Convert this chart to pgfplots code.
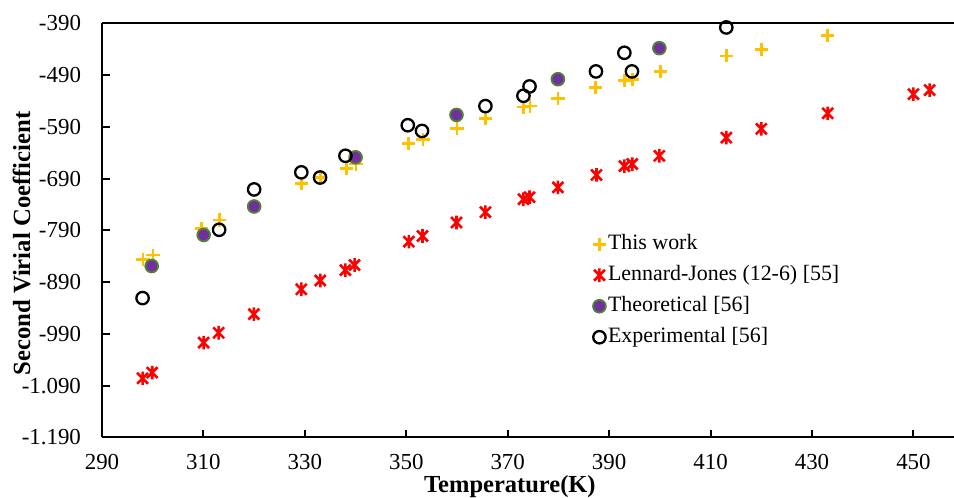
\documentclass[border=0pt]{standalone}
\usepackage{pgfplots}
\pgfplotsset{compat=1.18}
\usepackage{fontspec}
\setmainfont{Liberation Serif}
\definecolor{gold}{RGB}{255,192,0}
\definecolor{ljred}{RGB}{255,0,0}
\definecolor{thpurple}{RGB}{112,48,160}
\definecolor{thgreen}{RGB}{84,130,53}
\pgfdeclareplotmark{xstar}{%
  \pgfpathmoveto{\pgfqpoint{0pt}{\pgfplotmarksize}}%
  \pgfpathlineto{\pgfqpoint{0pt}{-\pgfplotmarksize}}%
  \pgfpathmoveto{\pgfqpoint{-0.8\pgfplotmarksize}{0.8\pgfplotmarksize}}%
  \pgfpathlineto{\pgfqpoint{0.8\pgfplotmarksize}{-0.8\pgfplotmarksize}}%
  \pgfpathmoveto{\pgfqpoint{-0.8\pgfplotmarksize}{-0.8\pgfplotmarksize}}%
  \pgfpathlineto{\pgfqpoint{0.8\pgfplotmarksize}{0.8\pgfplotmarksize}}%
  \pgfusepathqstroke}
\begin{document}
\begin{tikzpicture}
\path[use as bounding box] (-51bp,-30.35bp) rectangle (426bp,218.65bp);
\begin{axis}[
  scale only axis, width=426bp, height=207bp,
  xmin=290, xmax=458, ymin=-1190, ymax=-390,
  axis x line=box, axis y line=left,
  axis line style={-, line width=1bp, black},
  xtick pos=bottom, ytick pos=left,
  tick align=inside,
  major tick length=3.8bp,
  tick style={line width=1bp, black},
  xtick={290,310,...,450},
  ytick={-1190,-1090,-990,-890,-790,-690,-590,-490,-390},
  yticklabels={-1.190,-1.090,-990,-890,-790,-690,-590,-490,-390},
  /pgf/number format/assume math mode=true,
  tick label style={font=\fontsize{11.5}{13}\selectfont},
  yticklabel style={xshift=-7bp},
  xticklabel style={yshift=-5bp},
  xlabel={Temperature(K)},
  ylabel={Second Virial Coefficient},
  xlabel style={font=\fontsize{12.3}{14}\selectfont\bfseries, at={(axis description cs:0.4787,-0.1338)}, anchor=base},
  ylabel style={font=\fontsize{12.4}{14}\selectfont\bfseries, at={(axis description cs:-0.0944,0.468)}, anchor=center},
  legend cell align=left,
  legend style={draw=none, fill=none, font=\fontsize{11}{13}\selectfont,
    at={(axis description cs:0.5686,0.507)}, anchor=north west,
    nodes={inner sep=1pt, text height=8bp, text depth=2.5bp},
    row sep=3bp, column sep=0pt},
  legend image code/.code={\draw[mark repeat=2,mark phase=2,#1] plot coordinates {(0cm,0cm) (0.1cm,0cm) (0.2cm,0cm)};},
]
\addplot[only marks, mark=+, mark size=3.3bp, color=gold, mark options={line width=1.35bp}] coordinates {
(298.1,-847) (300.05,-838) (309.6,-786) (313.2,-770) (329.3,-700) (333.05,-688)
(338.2,-670) (340.1,-662) (350.5,-622) (353.3,-615) (360.0,-593) (365.6,-574)
(373.1,-552) (374.4,-550) (379.9,-535) (387.3,-514) (393.0,-500) (394.55,-498)
(400.1,-483) (413.2,-453) (420,-440) (433.1,-414)
};
\addlegendentry{This work}
\addplot[only marks, mark=xstar, mark size=3.4bp, color=ljred, mark options={line width=1.3bp}] coordinates {
(298.0,-1076) (299.9,-1065) (310.05,-1007) (313.0,-988) (319.96,-952) (329.3,-904)
(333.05,-887) (338.0,-867) (339.8,-857) (350.5,-812) (353.2,-801) (359.9,-775)
(365.6,-755) (373.1,-730) (374.3,-726) (379.9,-707) (387.5,-683) (393.0,-666)
(394.55,-662) (399.9,-646) (413.1,-611) (420,-594) (433.1,-564) (450,-527) (453.2,-519)
};
\addlegendentry{Lennard-Jones (12-6) [55]}
\addplot[only marks, mark=*, mark size=3.2bp, mark options={fill=thpurple, draw=thgreen, line width=0.9bp}] coordinates {
(299.8,-859) (310.05,-799) (320,-744) (340,-649) (359.9,-567) (379.9,-498) (399.9,-438)
};
\addlegendentry{Theoretical [56]}
\addplot[only marks, mark=o, mark size=3.1bp, mark options={draw=black, line width=1.15bp}] coordinates {
(298.0,-921) (313.1,-789) (320,-711) (329.3,-678) (333.0,-688) (338.0,-646)
(350.3,-587) (353.1,-598) (365.6,-550) (373.1,-530) (374.3,-512) (387.4,-483)
(393.0,-447) (394.5,-483) (413.1,-398)
};
\addlegendentry{Experimental [56]}
\end{axis}
\end{tikzpicture}
\end{document}
